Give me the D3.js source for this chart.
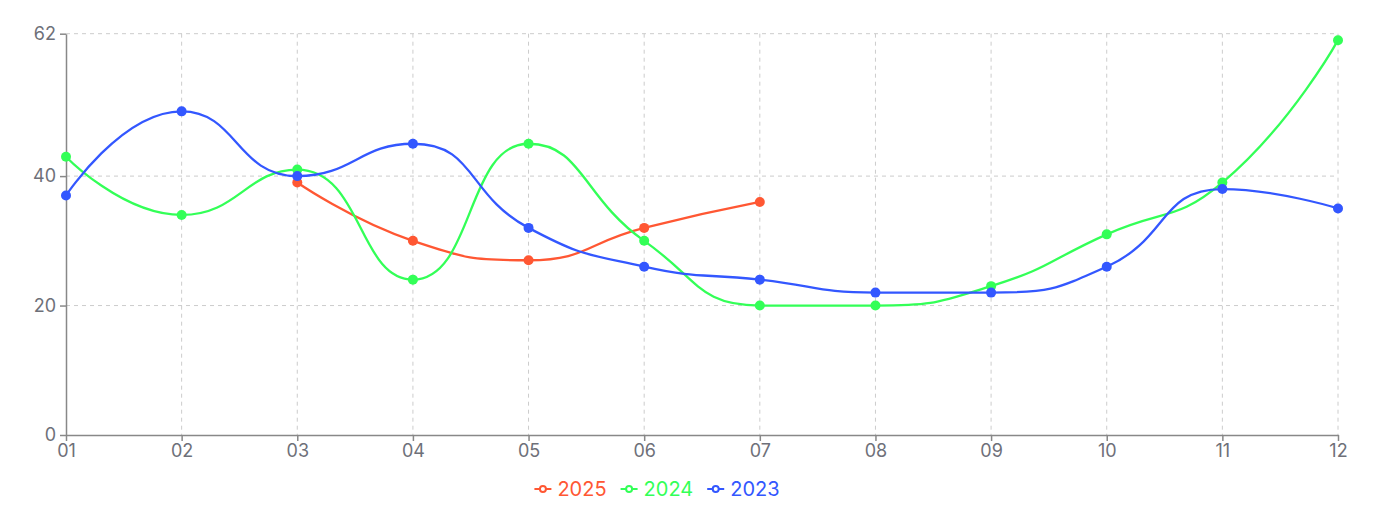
<!DOCTYPE html>
<html>
<head>
<meta charset="utf-8">
<script src="https://cdn.jsdelivr.net/npm/d3@7/dist/d3.min.js"></script>
<style>
  html, body { margin: 0; padding: 0; background: #fff; }
  svg { display: block; font-family: Inter, "Noto Sans", sans-serif; }
</style>
</head>
<body>
<svg id="chart" width="1380" height="509"></svg>
<script>
const months = ["01","02","03","04","05","06","07","08","09","10","11","12"];
const seriesNames = ["2025","2024","2023"];
const seriesColors = ["#FF5733","#33FF57","#3357FF"];
const values2025 = [null, null, 39, 30, 27, 32, 36, null, null, null, null, null];
const values2024 = [43, 34, 41, 24, 45, 30, 20, 20, 23, 31, 39, 61];
const values2023 = [37, 50, 40, 45, 32, 26, 24, 22, 22, 26, 38, 35];
const yTicks = [0, 20, 40, 62];
const yMax = 62;

const allValues = [values2025, values2024, values2023];

const svg = d3.select("#chart");
const plotLeft = 66, plotRight = 1338, plotTop = 33.7, plotBottom = 435;
const axisColor = "#6E7079";
const axisLineColor = "#888";
const fontSize = 18;
const legendFontSize = 20;

const x = d3.scalePoint().domain(months).range([plotLeft, plotRight]);
const y = d3.scaleLinear().domain([0, yMax]).range([plotBottom, plotTop]);

// grid
const grid = svg.append("g");
grid.selectAll("line.h").data(yTicks.filter(t => t !== 0)).join("line")
  .attr("x1", plotLeft).attr("x2", plotRight)
  .attr("y1", d => y(d)).attr("y2", d => y(d))
  .attr("stroke", "#ccc").attr("stroke-dasharray", "4,4").attr("stroke-width", 1);
grid.selectAll("line.v").data(months.slice(1)).join("line")
  .attr("x1", d => x(d)).attr("x2", d => x(d))
  .attr("y1", plotTop).attr("y2", plotBottom)
  .attr("stroke", "#ccc").attr("stroke-dasharray", "4,4").attr("stroke-width", 1);

// axes
const yAxis = d3.axisLeft(y).tickValues(yTicks).tickSize(6).tickSizeOuter(0).tickPadding(4);
const gy = svg.append("g").attr("transform", `translate(${plotLeft},0)`).call(yAxis);
gy.select(".domain").attr("stroke", axisLineColor).attr("stroke-width", 1.5);
gy.selectAll(".tick line").attr("stroke", axisLineColor).attr("stroke-width", 1.5);
gy.selectAll(".tick text").attr("fill", axisColor).style("font-size", fontSize + "px").style("font-family", "Inter, sans-serif");

const xAxis = d3.axisBottom(x).tickSize(6).tickSizeOuter(0).tickPadding(3);
const gx = svg.append("g").attr("transform", `translate(0,${plotBottom})`).call(xAxis);
gx.select(".domain").attr("stroke", axisLineColor).attr("stroke-width", 1.5);
gx.selectAll(".tick line").attr("stroke", axisLineColor).attr("stroke-width", 1.5);
gx.selectAll(".tick text").attr("fill", axisColor).style("font-size", fontSize + "px").style("font-family", "Inter, sans-serif");

// ECharts-like smooth bezier
function smoothPath(pts, smooth) {
  const p = d3.path();
  let prevX, prevY, cpx0, cpy0;
  const mn = Math.min, mx = Math.max;
  for (let i = 0; i < pts.length; i++) {
    const px = pts[i][0], py = pts[i][1];
    if (i === 0) { p.moveTo(px, py); cpx0 = px; cpy0 = py; }
    else {
      let cpx1, cpy1, ncx = px, ncy = py;
      if (i + 1 >= pts.length) { cpx1 = px; cpy1 = py; }
      else {
        const nx = pts[i + 1][0], ny = pts[i + 1][1];
        let vx = nx - prevX, vy = ny - prevY;
        const lp = Math.hypot(px - prevX, py - prevY);
        const ln = Math.hypot(nx - px, ny - py);
        const r = ln / (ln + lp);
        ncx = px + vx * smooth * r; ncy = py + vy * smooth * r;
        ncx = mn(ncx, mx(nx, px)); ncy = mn(ncy, mx(ny, py));
        ncx = mx(ncx, mn(nx, px)); ncy = mx(ncy, mn(ny, py));
        vx = ncx - px; vy = ncy - py;
        cpx1 = px - vx * lp / ln; cpy1 = py - vy * lp / ln;
        cpx1 = mn(cpx1, mx(prevX, px)); cpy1 = mn(cpy1, mx(prevY, py));
        cpx1 = mx(cpx1, mn(prevX, px)); cpy1 = mx(cpy1, mn(prevY, py));
        vx = px - cpx1; vy = py - cpy1;
        ncx = px + vx * ln / lp; ncy = py + vy * ln / lp;
      }
      p.bezierCurveTo(cpx0, cpy0, cpx1, cpy1, px, py);
      cpx0 = ncx; cpy0 = ncy;
    }
    prevX = px; prevY = py;
  }
  return p.toString();
}

const linesG = svg.append("g");
const pointsG = svg.append("g");
allValues.forEach((vals, si) => {
  const pts = months.map((m, i) => vals[i] == null ? null : [x(m), y(vals[i])]).filter(d => d);
  linesG.append("path").attr("d", smoothPath(pts, 0.5))
    .attr("fill", "none").attr("stroke", seriesColors[si]).attr("stroke-width", 2.3);
});
allValues.forEach((vals, si) => {
  const data = months.map((m, i) => ({m, v: vals[i]})).filter(d => d.v != null);
  pointsG.selectAll(null).data(data).join("circle")
    .attr("cx", d => x(d.m)).attr("cy", d => y(d.v)).attr("r", 5)
    .attr("fill", seriesColors[si]);
});

// legend
const legend = svg.append("g");
const legendY = 489;
const iconW = 17, gapIconText = 6, itemGap = 14;
const items = seriesNames.map((n, i) => {
  const g = legend.append("g");
  g.append("line").attr("x1", 0).attr("x2", iconW).attr("y1", 0).attr("y2", 0)
    .attr("stroke", seriesColors[i]).attr("stroke-width", 2);
  g.append("circle").attr("cx", iconW / 2).attr("cy", 0).attr("r", 3)
    .attr("fill", "#fff").attr("stroke", seriesColors[i]).attr("stroke-width", 2);
  const t = g.append("text").attr("x", iconW + gapIconText).attr("y", 0).attr("dy", "0.35em")
    .attr("fill", seriesColors[i]).style("font-size", legendFontSize + "px").text(n);
  return {g, w: iconW + gapIconText + t.node().getComputedTextLength()};
});
const totalW = d3.sum(items, d => d.w) + itemGap * (items.length - 1);
let cx = 657 - totalW / 2;
items.forEach(it => { it.g.attr("transform", `translate(${cx},${legendY})`); cx += it.w + itemGap; });
</script>
</body>
</html>
